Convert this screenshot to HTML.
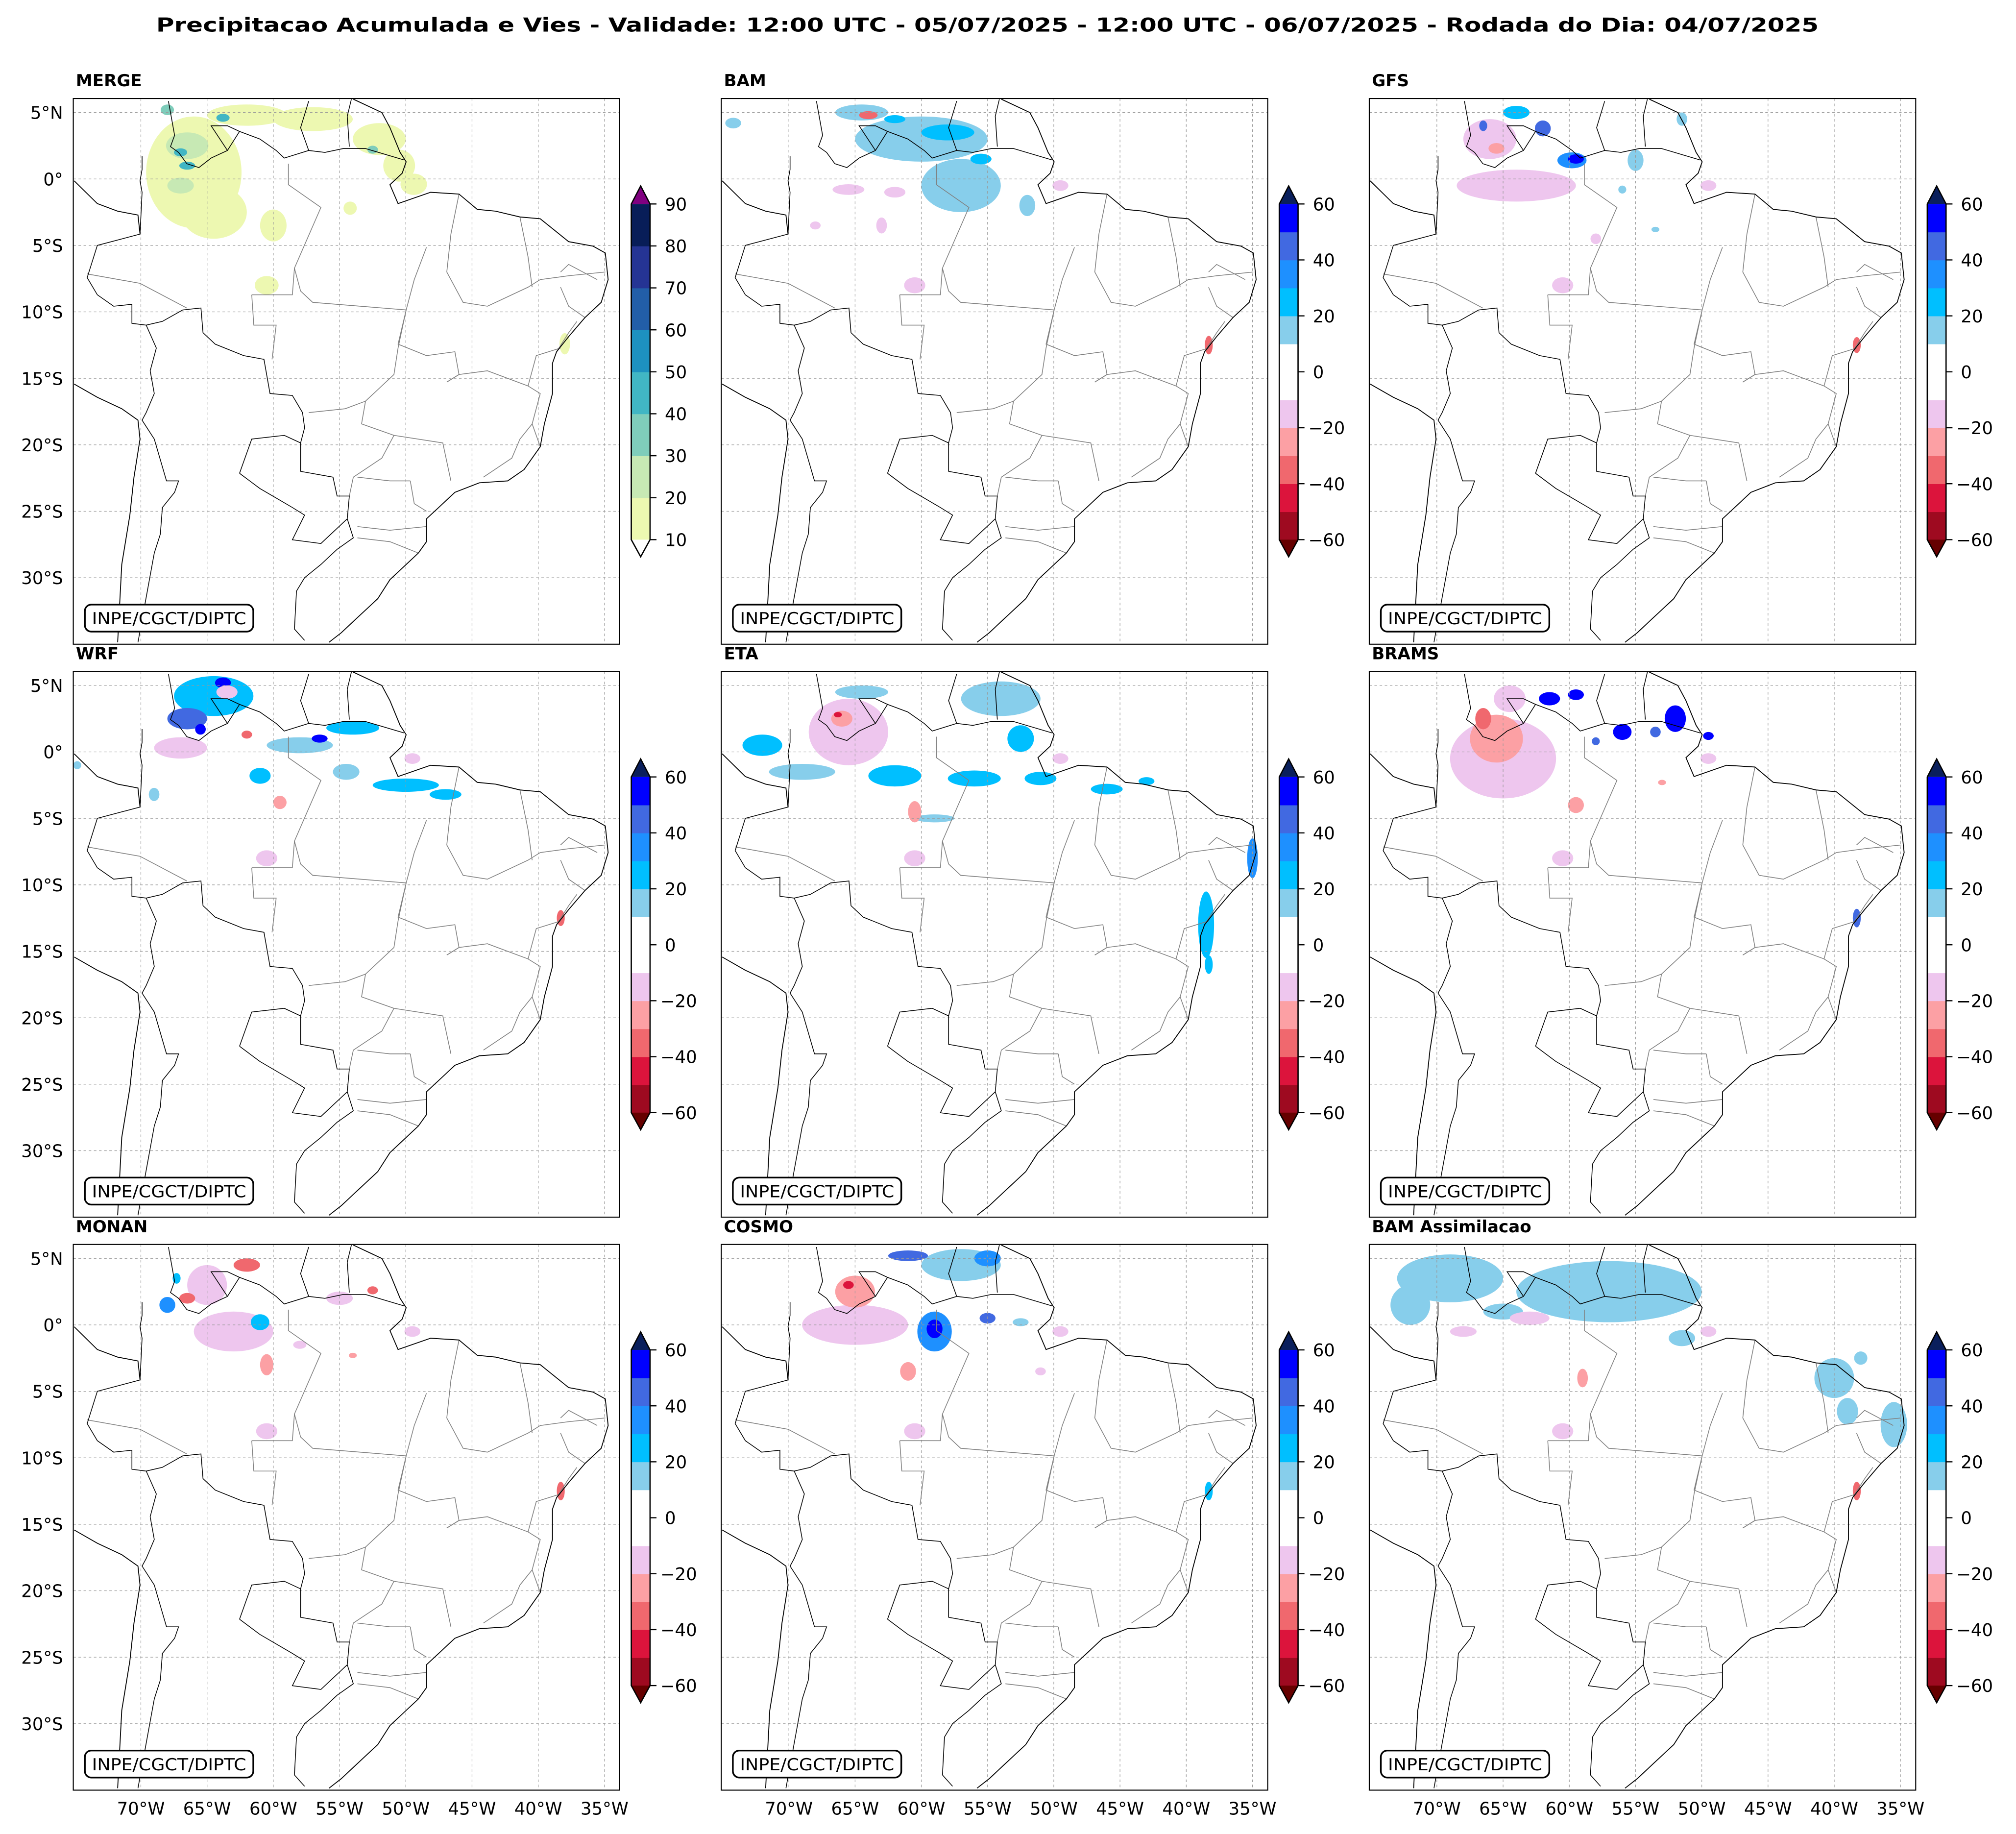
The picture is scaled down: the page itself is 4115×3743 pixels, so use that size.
<!DOCTYPE html>
<html><head><meta charset="utf-8"><style>
html,body{margin:0;padding:0;background:#fff}
svg{display:block}
text{font-family:"DejaVu Sans","Liberation Sans",sans-serif}
</style></head><body>
<svg id="fig" xmlns="http://www.w3.org/2000/svg" width="4115" height="3743" viewBox="0 0 1568 1426" preserveAspectRatio="none">
<rect width="1568" height="1426" fill="#fff"/>
<text x="768" y="24.5" text-anchor="middle" font-size="15" font-weight="bold" textLength="1293" lengthAdjust="spacingAndGlyphs">Precipitacao Acumulada e Vies - Validade: 12:00 UTC - 05/07/2025 - 12:00 UTC - 06/07/2025 - Rodada do Dia: 04/07/2025</text>
<g id="panels"></g>
</svg>
<script>
// ---- data ----
const panelNames = ["MERGE","BAM","GFS","WRF","ETA","BRAMS","MONAN","COSMO","BAM Assimilacao"];
const latTicks = [5,0,-5,-10,-15,-20,-25,-30];
const latTickLabels = ["5°N","0°","5°S","10°S","15°S","20°S","25°S","30°S"];
const lonTicks = [-70,-65,-60,-55,-50,-45,-40,-35];
const lonTickLabels = ["70°W","65°W","60°W","55°W","50°W","45°W","40°W","35°W"];
const mergeLevels = [10,20,30,40,50,60,70,80,90];
const mergeColors = ["#edf8b1","#c7e9b4","#7fcdbb","#41b6c4","#1d91c0","#225ea8","#253494","#081d58"];
const mergeTickLabels = ["10","20","30","40","50","60","70","80","90"];
const biasLevels = [-60,-50,-40,-30,-20,-10,10,20,30,40,50,60];
const biasColors = ["#9e0a20","#dc143c","#f0686e","#fca0a4","#eec6ee","#ffffff","#87ceeb","#00bfff","#1e90ff","#4169e1","#0000ff"];
const biasTickValues = [-60,-40,-20,0,20,40,60];
const biasTickLabels = ["−60","−40","−20","0","20","40","60"];
// precipitation / bias features: [lon, lat, rx(deg), ry(deg), value]
const mergeBlobs = [[-66,0.5,3.6,4.2,12],[-64.5,-2.5,2.5,2,12],[-62,4.8,3,0.8,12],[-57,4.5,3,0.9,12],[-52,3,2,1.2,12],[-50.5,1,1.2,1.2,12],[-60.5,-8,0.9,0.7,12],[-60,-3.5,1,1.2,12],[-54.2,-2.2,0.5,0.5,12],[-49.4,-0.4,1,0.8,12],[-66.5,2.5,1.6,1,25],[-67,-0.5,1,0.6,25],[-67,2,0.5,0.3,45],[-66.5,1,0.6,0.3,45],[-63.8,4.6,0.5,0.3,45],[-68,5.2,0.5,0.4,35],[-52.5,2.2,0.4,0.3,35],[-38,-12.4,0.4,0.8,12]];
const bamBlobs = [[-57,-0.5,3,2,15],[-60,3,5,1.7,15],[-64.5,5,2,0.6,15],[-58,3.5,2,0.6,25],[-55.5,1.5,0.8,0.4,25],[-62,4.5,0.8,0.3,25],[-74.2,4.2,0.6,0.4,15],[-60.5,-8,0.8,0.6,-15],[-65.5,-0.8,1.2,0.4,-15],[-62,-1,0.8,0.4,-15],[-64,4.8,0.7,0.3,-35],[-63,-3.5,0.4,0.6,-15],[-38.3,-12.5,0.3,0.7,-35],[-49.5,-0.5,0.6,0.4,-15],[-52,-2,0.6,0.8,15],[-68,-3.5,0.4,0.3,-15]];
const gfsBlobs = [[-64,-0.5,4.5,1.2,-15],[-66,3,2,1.5,-15],[-65.5,2.3,0.6,0.4,-25],[-59.8,1.4,1.1,0.6,35],[-59.5,1.5,0.6,0.35,70],[-62,3.8,0.6,0.6,45],[-64,5,1,0.5,25],[-55,1.4,0.6,0.8,15],[-51.5,4.5,0.4,0.5,15],[-66.5,4,0.3,0.4,45],[-60.5,-8,0.8,0.6,-15],[-58,-4.5,0.4,0.4,-15],[-53.5,-3.8,0.3,0.2,15],[-38.3,-12.5,0.3,0.6,-35],[-49.5,-0.5,0.6,0.4,-15],[-56,-0.8,0.3,0.3,15]];
const wrfBlobs = [[-64.5,4.2,3,1.5,20],[-66.5,2.5,1.5,0.8,45],[-63.8,5.2,0.6,0.4,55],[-65.5,1.7,0.4,0.4,70],[-63.5,4.5,0.8,0.5,-15],[-67,0.3,2,0.8,-15],[-62,1.3,0.4,0.3,-35],[-58,0.5,2.5,0.6,15],[-56.5,1,0.6,0.3,55],[-54,1.8,2,0.5,25],[-61,-1.8,0.8,0.6,20],[-54.5,-1.5,1,0.6,15],[-50,-2.5,2.5,0.5,20],[-47,-3.2,1.2,0.4,20],[-69,-3.2,0.4,0.5,15],[-60.5,-8,0.8,0.6,-15],[-59.5,-3.8,0.5,0.5,-25],[-74.8,-1,0.3,0.3,15],[-38.3,-12.5,0.3,0.6,-35],[-49.5,-0.5,0.6,0.4,-15]];
const etaBlobs = [[-65.5,1.5,3,2.5,-15],[-66,2.5,0.8,0.6,-25],[-66.3,2.8,0.3,0.2,-45],[-72,0.5,1.5,0.8,20],[-69,-1.5,2.5,0.6,15],[-62,-1.8,2,0.8,25],[-56,-2,2,0.6,20],[-51,-2,1.2,0.5,20],[-46,-2.8,1.2,0.4,20],[-52.5,1,1,1,25],[-54,4,3,1.3,15],[-64.5,4.5,2,0.5,15],[-59,-5,1.5,0.3,15],[-35,-8,0.4,1.5,30],[-38.5,-13,0.6,2.5,20],[-38.3,-16,0.3,0.7,25],[-60.5,-8,0.8,0.6,-15],[-60.5,-4.5,0.5,0.8,-25],[-49.5,-0.5,0.6,0.4,-15],[-43,-2.2,0.6,0.3,25]];
const bramsBlobs = [[-65,-0.5,4,3,-15],[-65.5,1,2,1.8,-25],[-66.5,2.5,0.6,0.8,-35],[-64.5,4,1.2,1,-15],[-61.5,4,0.8,0.5,55],[-59.5,4.3,0.6,0.4,65],[-56,1.5,0.7,0.6,70],[-52,2.5,0.8,1,55],[-52.3,2.2,0.3,0.4,80],[-53.5,1.5,0.4,0.4,45],[-49.5,1.2,0.4,0.3,65],[-58,0.8,0.3,0.3,45],[-60.5,-8,0.8,0.6,-15],[-59.5,-4,0.6,0.6,-25],[-53,-2.3,0.3,0.2,-25],[-38.3,-12.5,0.3,0.7,40],[-49.5,-0.5,0.6,0.4,-15]];
const monanBlobs = [[-63,-0.5,3,1.5,-15],[-65,3,1.5,1.5,-15],[-62,4.5,1,0.5,-35],[-66.5,2,0.6,0.4,-35],[-68,1.5,0.6,0.6,30],[-67.3,3.5,0.3,0.4,20],[-61,0.2,0.7,0.6,25],[-55,2,1,0.5,-15],[-52.5,2.6,0.4,0.3,-35],[-60.5,-8,0.8,0.6,-15],[-60.5,-3,0.5,0.8,-25],[-54,-2.3,0.3,0.2,-25],[-38.3,-12.5,0.3,0.7,-35],[-49.5,-0.5,0.6,0.4,-15],[-58,-1.5,0.5,0.3,-15]];
const cosmoBlobs = [[-65,0,4,1.5,-15],[-65,2.5,1.5,1.2,-25],[-65.5,3,0.4,0.3,-50],[-59,-0.5,1.3,1.5,35],[-59,-0.3,0.6,0.7,60],[-57,4.5,3,1.2,15],[-55,5,1,0.6,30],[-61,5.2,1.5,0.4,45],[-52.5,0.2,0.6,0.3,15],[-55,0.5,0.6,0.4,40],[-60.5,-8,0.8,0.6,-15],[-61,-3.5,0.6,0.7,-25],[-38.3,-12.5,0.3,0.7,20],[-49.5,-0.5,0.6,0.4,-15],[-51,-3.5,0.4,0.3,-15]];
const assimBlobs = [[-57,2.5,7,2.3,15],[-69,3.5,4,1.8,15],[-72,1.5,1.5,1.5,15],[-65,1,1.5,0.6,15],[-40,-4,1.5,1.5,15],[-39,-6.5,0.8,1,15],[-35.5,-7.5,1,1.7,15],[-38,-2.5,0.5,0.5,15],[-63,0.5,1.5,0.5,-15],[-68,-0.5,1,0.4,-15],[-60.5,-8,0.8,0.6,-15],[-59,-4,0.4,0.7,-25],[-38.3,-12.5,0.3,0.7,-35],[-49.5,-0.5,0.6,0.4,-15],[-51.5,-1,1,0.6,15]];
const panelBlobs = [mergeBlobs,bamBlobs,gfsBlobs,wrfBlobs,etaBlobs,bramsBlobs,monanBlobs,cosmoBlobs,assimBlobs];

// ---- basemap (reference-sketch coordinates, converted to lon/lat) ----
const coastLines = [
 [870,105,940,140,960,180,985,245,1000,270,990,300,960,330,980,380,1060,350,1130,355,1175,395,1220,400,1280,415,1330,420,1400,480,1460,492,1490,510,1497,580,1480,640,1440,680,1400,730,1370,770,1360,800,1360,880,1340,960,1330,1020,1290,1080,1250,1110,1180,1115,1120,1140,1080,1180,1050,1210,1050,1270,1030,1300,1000,1330,960,1370,930,1420,880,1470,840,1510,810,1535],
 [183,320,240,380,290,400,340,410,345,460],
 [183,855,240,890,300,920,340,950,345,1000,330,1100,320,1200,300,1330,290,1535]
];
const countryLines = [
 [995,265,900,235,845,235,800,245,760,240,700,260,680,240,640,210,590,190,560,240,520,260,490,285,460,275,440,245,420,230,430,200,415,110],
 [350,255,350,290,345,320,350,350,345,460,240,490,215,575,240,620,280,650,325,645,325,695,360,700,400,690,450,660,495,655,500,720,530,750,600,780,650,790,665,880,720,885,745,930,750,970,740,1010,740,1085,820,1100,830,1150,860,1150,855,1210,870,1260,830,1290,790,1330,750,1365,730,1400,725,1500,750,1530],
 [590,1090,620,1000,700,990,740,1010],
 [590,1090,640,1130,720,1180,750,1200,720,1265,790,1275,855,1210],
 [360,700,385,760,370,820,380,880,360,930,350,950,380,1000,410,1110,440,1110,430,1140,400,1180,395,1250,380,1300,340,1535],
 [760,240,740,180,760,110],[860,230,855,150,865,105],
 [560,240,520,175,560,175,590,190]
];
const stateLines = [
 [710,275,710,330,790,390,725,550,740,610,770,640,1000,660],
 [215,565,345,590,460,655],
 [1050,495,1020,580,1000,660,980,760,970,830,900,900,890,960,970,990,1090,1010,1110,1110],
 [1000,660,980,750,1050,780,1120,770,1130,830,1100,850],
 [1130,355,1110,460,1100,560,1140,640,1200,650,1300,600,1330,580,1400,570,1490,560],
 [1280,415,1300,520,1310,600],
 [620,620,625,700,680,700,670,790],[725,550,720,620,620,620],
 [900,900,850,920,760,930],[970,990,940,1050,870,1100,860,1150],
 [1100,850,1130,830,1200,820,1300,860,1330,880,1310,960,1330,1020],
 [1300,860,1320,780,1380,760],[1310,960,1280,1000,1260,1050,1190,1100],
 [1010,1110,1020,1170,1050,1190],[880,1230,960,1240,1050,1230],[880,1100,960,1110,1010,1110],
 [1030,1300,960,1270,880,1260],[1370,770,1400,720,1420,690],[1440,680,1400,650,1380,600],
 [1470,580,1400,540,1380,560]
];
const zLon = zx => -70 + (zx-347)*5/163;
const zLat = zy => (315-zy)*5/175;

// ---- geometry ----
const NS="http://www.w3.org/2000/svg";
const LON0=-75.1, LON1=-33.85, LAT0=6.05, LAT1=-35.0;
const PW=425, PH=424.3;
const colX=[57,561,1065], rowY=[76.6,522.1,967.6];
function mk(tag, attrs, parent){const e=document.createElementNS(NS,tag);for(const k in attrs)e.setAttribute(k,attrs[k]);parent.appendChild(e);return e;}
function colorFor(v, levels, colors){
  if (v < levels[0]) return null;
  for (let i=0;i<colors.length;i++){ if (v>=levels[i] && v<levels[i+1]) return colors[i]; }
  return colors[colors.length-1];
}
const root=document.getElementById('panels');
panelNames.forEach((name, idx)=>{
  const r=Math.floor(idx/3), c=idx%3;
  const x0=colX[c], y0=rowY[r];
  const px = lon => x0 + (lon-LON0)/(LON1-LON0)*PW;
  const py = lat => y0 + (LAT0-lat)/(LAT0-LAT1)*PH;
  const g=mk('g',{},root);
  
  
  const cp=mk('clipPath',{id:'cp'+idx},g);
  mk('rect',{x:x0,y:y0,width:PW,height:PH},cp);
  const inner=mk('g',{'clip-path':'url(#cp'+idx+')'},g);
  const isMerge = idx===0;
  const blobs = panelBlobs[idx];
  const fieldG = mk('g',{},inner);
  
  
  blobs.forEach(b=>{
    const col = isMerge ? colorFor(b[4], mergeLevels, mergeColors) : colorFor(b[4], biasLevels, biasColors);
    if(!col || col==="#ffffff") return;
    const e=mk('ellipse',{cx:px(b[0]),cy:py(b[1]),rx:b[2]*PW/(LON1-LON0),ry:b[3]*PH/(LAT0-LAT1),fill:col},fieldG);
    
    
  });
  lonTicks.forEach(lo=>{ mk('line',{x1:px(lo),x2:px(lo),y1:y0,y2:y0+PH,stroke:'#999','stroke-width':0.45,'stroke-dasharray':'2,2'},inner); });
  latTicks.forEach(la=>{ mk('line',{x1:x0,x2:x0+PW,y1:py(la),y2:py(la),stroke:'#999','stroke-width':0.45,'stroke-dasharray':'2,2'},inner); });
  const pts = arr => { let s=''; for(let i=0;i<arr.length;i+=2) s+=px(zLon(arr[i])).toFixed(1)+','+py(zLat(arr[i+1])).toFixed(1)+' '; return s; };
  stateLines.forEach(l=>mk('polyline',{points:pts(l),fill:'none',stroke:'#808080','stroke-width':0.6},inner));
  countryLines.forEach(l=>mk('polyline',{points:pts(l),fill:'none',stroke:'#000','stroke-width':0.6},inner));
  coastLines.forEach(l=>mk('polyline',{points:pts(l),fill:'none',stroke:'#000','stroke-width':0.7},inner));
  const fr=mk('rect',{x:x0,y:y0,width:PW,height:PH,fill:'none',stroke:'#000','stroke-width':0.8},g);
  
  
  const t=mk('text',{x:x0+2,y:y0-9.5,'font-size':13,'font-weight':'bold'},g); t.textContent=name;
  
  
  if(c===0){
    latTicks.forEach((la,i)=>{
      const tt=mk('text',{x:x0-8,y:py(la)+5,'font-size':13.5,'text-anchor':'end'},g); tt.textContent=latTickLabels[i];
      
      
    });
  }
  if(r===2){
    lonTicks.forEach((lo,i)=>{
      const tt=mk('text',{x:px(lo),y:y0+PH+19,'font-size':13.5,'text-anchor':'middle'},g); tt.textContent=lonTickLabels[i];
      
      
    });
  }
  const bx=mk('rect',{x:x0+9,y:y0+393.5,width:131,height:21,rx:5,fill:'#fff',stroke:'#000','stroke-width':1.3},g);
  
  
  const ct=mk('text',{x:x0+74.5,y:y0+408.8,'font-size':13,'text-anchor':'middle',textLength:120,lengthAdjust:'spacingAndGlyphs'},g); ct.textContent='INPE/CGCT/DIPTC';
  
  
  const cb=mk('g',{},g);
  
  
  const bxl=x0+434, bw=14.6, bt=y0+82, bb=y0+343;
  const levels = isMerge ? mergeLevels : biasLevels;
  const cols = isMerge ? mergeColors : biasColors;
  const vmin=levels[0], vmax=levels[levels.length-1];
  const cy = v => bb - (v-vmin)/(vmax-vmin)*(bb-bt);
  cols.forEach((col,i)=>{ mk('rect',{x:bxl,y:cy(levels[i+1]),width:bw,height:cy(levels[i])-cy(levels[i+1])+0.3,fill:col},cb); });
  mk('polygon',{points:`${bxl},${bt} ${bxl+bw/2},${y0+68} ${bxl+bw},${bt}`,fill:isMerge?'#800080':'#0a1f5c'},cb);
  mk('polygon',{points:`${bxl},${bb} ${bxl+bw/2},${y0+356.3} ${bxl+bw},${bb}`,fill:isMerge?'#ffffff':'#660000'},cb);
  mk('polygon',{points:`${bxl},${bt} ${bxl+bw/2},${y0+68} ${bxl+bw},${bt} ${bxl+bw},${bb} ${bxl+bw/2},${y0+356.3} ${bxl},${bb}`,fill:'none',stroke:'#000','stroke-width':1},cb);
  const tickVals = isMerge ? mergeLevels : biasTickValues;
  const tickLabs = isMerge ? mergeTickLabels : biasTickLabels;
  tickVals.forEach((v,i)=>{
    const yy = cy(v);
    mk('line',{x1:bxl+bw,x2:bxl+bw+5,y1:yy,y2:yy,stroke:'#000','stroke-width':0.9},cb);
    const tl=mk('text',{x:bxl+bw+(tickLabs[i].startsWith('−')?8:11.5),y:yy+5,'font-size':13.5},cb); tl.textContent=tickLabs[i];
    
    
  });
});
</script>
</body></html>
